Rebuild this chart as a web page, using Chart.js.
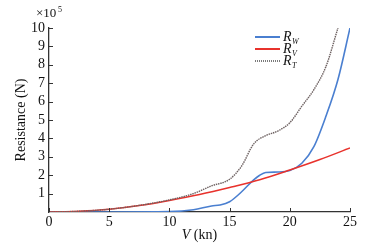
<!DOCTYPE html>
<html>
<head>
<meta charset="utf-8">
<script src="https://cdn.jsdelivr.net/npm/chart.js@4/dist/chart.umd.min.js"></script>
<style>
  html, body { margin: 0; padding: 0; background: #fff; }
  #wrap { width: 386px; height: 246px; position: relative; }
</style>
</head>
<body>
<div id="wrap"><canvas id="c" width="386" height="246"></canvas></div>
<script>
// velocidades (kn) y resistencias (x10^5 N)
const vRv = [0, 2.5, 5, 7.5, 10, 12.5, 15, 17.5, 20, 22.5, 25];
const Rv  = [0, 0.04, 0.15, 0.35, 0.63, 0.95, 1.33, 1.75, 2.28, 2.85, 3.48];

const vRw = [0, 5, 10, 12, 13.5, 14.2, 15, 16, 17, 17.5, 18, 19, 20, 21, 22, 23, 24, 25];
const Rw  = [0, 0, 0.02, 0.12, 0.33, 0.38, 0.56, 1.1, 1.75, 2.0, 2.15, 2.17, 2.25, 2.65, 3.55, 5.2, 7.2, 10];

const vRt = [0, 2.5, 5, 7.5, 10, 12, 13.5, 15, 16, 17, 18, 19, 20, 21, 22, 23, 24];
const Rt  = [0, 0.04, 0.15, 0.36, 0.66, 1.0, 1.42, 1.78, 2.5, 3.7, 4.15, 4.4, 4.85, 5.75, 6.65, 7.9, 10];

const xTicks = [0, 5, 10, 15, 20, 25];
const yTicks = [1, 2, 3, 4, 5, 6, 7, 8, 9, 10];

const serif = '"Liberation Serif", "Times New Roman", serif';
const ink = '#111';
const pts = (xs, ys) => xs.map((x, i) => ({ x, y: ys[i] }));

// leyenda, título X y ticks hacia dentro dibujados a mano
const extras = {
  id: 'extras',
  afterDraw(chart) {
    const { ctx, scales: { x, y }, chartArea: a } = chart;
    ctx.save();
    ctx.strokeStyle = '#333';
    ctx.lineWidth = 1;
    yTicks.forEach(t => {
      const py = Math.round(y.getPixelForValue(t)) + 0.5;
      ctx.beginPath(); ctx.moveTo(a.left, py); ctx.lineTo(a.left + 4, py); ctx.stroke();
    });
    xTicks.forEach(t => {
      const px = Math.round(x.getPixelForValue(t)) + 0.5;
      ctx.beginPath(); ctx.moveTo(px, a.bottom); ctx.lineTo(px, a.bottom - 4); ctx.stroke();
    });
    ctx.fillStyle = ink;
    ctx.textBaseline = 'alphabetic';

    // x10^5
    ctx.font = '13px ' + serif;
    ctx.fillText('×10', 36, 17);
    ctx.font = '8px ' + serif;
    ctx.fillText('5', 58, 12);

    // título eje X: "V (kn)" con V en cursiva
    ctx.font = 'italic 14px ' + serif;
    const wV = ctx.measureText('V').width;
    ctx.font = '14px ' + serif;
    const wR = ctx.measureText(' (kn)').width;
    const cx = (a.left + a.right) / 2;
    const x0 = cx - (wV + wR) / 2;
    ctx.font = 'italic 14px ' + serif;
    ctx.fillText('V', x0, 239);
    ctx.font = '14px ' + serif;
    ctx.fillText(' (kn)', x0 + wV, 239);

    // leyenda
    const items = [
      { c: '#4a7fd0', dash: [], sub: 'W', y: 37 },
      { c: '#e8322c', dash: [], sub: 'V', y: 49 },
      { c: '#444', dash: [1, 1], sub: 'T', y: 61 }
    ];
    items.forEach(it => {
      ctx.strokeStyle = it.c;
      ctx.lineWidth = it.dash.length ? 1.4 : 2;
      ctx.setLineDash(it.dash);
      ctx.beginPath(); ctx.moveTo(255, it.y); ctx.lineTo(280, it.y); ctx.stroke();
      ctx.setLineDash([]);
      ctx.fillStyle = ink;
      ctx.font = 'italic 14px ' + serif;
      ctx.fillText('R', 283, it.y + 4);
      ctx.font = 'italic 8px ' + serif;
      ctx.fillText(it.sub, 292, it.y + 7);
    });
    ctx.restore();
  }
};

new Chart(document.getElementById('c').getContext('2d'), {
  type: 'line',
  data: {
    datasets: [
      { label: 'R_T', data: pts(vRt, Rt), borderColor: '#6e6262', borderWidth: 1.4, borderDash: [1.5, 0.8], pointRadius: 0, cubicInterpolationMode: 'monotone' },
      { label: 'R_V', data: pts(vRv, Rv), borderColor: '#e8322c', borderWidth: 1.5, pointRadius: 0, cubicInterpolationMode: 'monotone' },
      { label: 'R_W', data: pts(vRw, Rw), borderColor: '#4a7fd0', borderWidth: 1.6, pointRadius: 0, cubicInterpolationMode: 'monotone' }
    ]
  },
  options: {
    responsive: false,
    animation: false,
    layout: { padding: { top: 28, right: 36, left: 0, bottom: 0 } },
    plugins: { legend: { display: false }, tooltip: { enabled: false } },
    scales: {
      x: {
        type: 'linear', min: 0, max: 25,
        afterBuildTicks: s => { s.ticks = xTicks.map(v => ({ value: v })); },
        afterFit: s => { s.height = 34; },
        grid: { display: false, drawTicks: false },
        border: { color: '#333', width: 1.3 },
        ticks: { color: ink, font: { family: serif, size: 14 }, padding: 2, maxRotation: 0 }
      },
      y: {
        min: 0, max: 10,
        afterBuildTicks: s => { s.ticks = yTicks.map(v => ({ value: v })); },
        afterFit: s => { s.width = 49; },
        grid: { display: false, drawTicks: false },
        border: { color: '#333', width: 1.3 },
        ticks: { color: ink, font: { family: serif, size: 14 }, padding: 4 },
        title: { display: true, text: 'Resistance (N)', color: ink, font: { family: serif, size: 14 }, padding: { top: 13, bottom: 0 } }
      }
    }
  },
  plugins: [extras]
});
</script>
</body>
</html>
